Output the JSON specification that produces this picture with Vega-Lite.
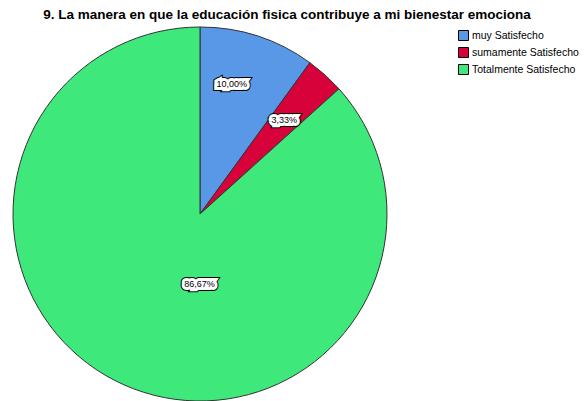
{
  "$schema": "https://vega.github.io/schema/vega-lite/v6.json",
  "autosize": "none",
  "width": 374,
  "height": 374,
  "padding": {"top": 27, "left": 13, "right": 200, "bottom": 0},
  "background": "white",
  "title": {
    "text": "9. La manera en que la educación fisica contribuye a mi bienestar emociona",
    "font": "Liberation Sans",
    "fontSize": 13.5,
    "fontWeight": "bold",
    "color": "#000000",
    "anchor": "middle",
    "frame": "group",
    "dx": 87,
    "offset": 4
  },
  "data": {
    "values": [
      {"cat": "muy Satisfecho", "pct": 10.0, "label": "10,00%", "ord": 1},
      {"cat": "sumamente Satisfecho", "pct": 3.33, "label": "3,33%", "ord": 2},
      {"cat": "Totalmente Satisfecho", "pct": 86.67, "label": "86,67%", "ord": 3}
    ]
  },
  "encoding": {
    "theta": {"field": "pct", "type": "quantitative", "stack": true},
    "order": {"field": "ord", "type": "quantitative"}
  },
  "layer": [
    {
      "mark": {"type": "arc", "stroke": "#333333", "strokeWidth": 1, "outerRadius": 187},
      "encoding": {
        "color": {
          "field": "cat",
          "type": "nominal",
          "scale": {
            "domain": ["muy Satisfecho", "sumamente Satisfecho", "Totalmente Satisfecho"],
            "range": ["#5898E6", "#D8023A", "#3FE87A"]
          },
          "legend": {
            "title": null,
            "orient": "none",
            "legendX": 445,
            "legendY": 3,
            "padding": 0,
            "symbolType": "square",
            "symbolSize": 100,
            "symbolStrokeColor": "#000000",
            "symbolStrokeWidth": 1,
            "symbolOpacity": 1,
            "labelFont": "Liberation Sans",
            "labelFontSize": 10.5,
            "labelColor": "#000000",
            "rowPadding": 2,
            "labelOffset": 3
          }
        }
      }
    },
    {
      "mark": {
        "type": "text",
        "font": "Liberation Sans",
        "fontSize": 9,
        "baseline": "middle",
        "align": "center",
        "fill": "#000000",
        "stroke": "#000000",
        "strokeWidth": 8,
        "strokeJoin": "miter",
        "radius": {"expr": "datum.cat === 'muy Satisfecho' ? 132 : datum.cat === 'sumamente Satisfecho' ? 126 : 70"},
        "dx": {"expr": "datum.cat === 'muy Satisfecho' ? -9 : datum.cat === 'sumamente Satisfecho' ? 0 : 28"},
        "dy": {"expr": "datum.cat === 'muy Satisfecho' ? -4 : datum.cat === 'sumamente Satisfecho' ? 0 : 6"}
      },
      "encoding": {"text": {"field": "label"}}
    },
    {
      "mark": {
        "type": "text",
        "font": "Liberation Sans",
        "fontSize": 9,
        "baseline": "middle",
        "align": "center",
        "fill": "#FFFFFF",
        "stroke": "#FFFFFF",
        "strokeWidth": 6,
        "strokeJoin": "miter",
        "radius": {"expr": "datum.cat === 'muy Satisfecho' ? 132 : datum.cat === 'sumamente Satisfecho' ? 126 : 70"},
        "dx": {"expr": "datum.cat === 'muy Satisfecho' ? -9 : datum.cat === 'sumamente Satisfecho' ? 0 : 28"},
        "dy": {"expr": "datum.cat === 'muy Satisfecho' ? -4 : datum.cat === 'sumamente Satisfecho' ? 0 : 6"}
      },
      "encoding": {"text": {"field": "label"}}
    },
    {
      "mark": {
        "type": "text",
        "font": "Liberation Sans",
        "fontSize": 9,
        "baseline": "middle",
        "align": "center",
        "fill": "#000000",
        "radius": {"expr": "datum.cat === 'muy Satisfecho' ? 132 : datum.cat === 'sumamente Satisfecho' ? 126 : 70"},
        "dx": {"expr": "datum.cat === 'muy Satisfecho' ? -9 : datum.cat === 'sumamente Satisfecho' ? 0 : 28"},
        "dy": {"expr": "datum.cat === 'muy Satisfecho' ? -4 : datum.cat === 'sumamente Satisfecho' ? 0 : 6"}
      },
      "encoding": {"text": {"field": "label"}}
    }
  ],
  "config": {"view": {"stroke": null}}
}
